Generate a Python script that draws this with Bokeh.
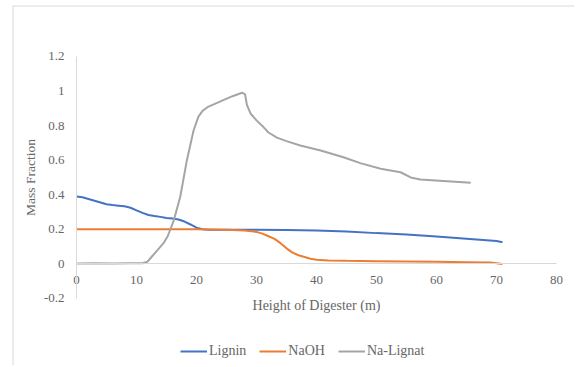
from bokeh.plotting import figure
from bokeh.models import (Range1d, FixedTicker, LinearAxis, Legend, LegendItem,
                          CustomJSTickFormatter, Span)
from bokeh.embed import file_html
from bokeh.resources import INLINE

# ---- data ----
lignin_x = [0, 1, 2, 3, 4, 5, 6, 7, 8, 9, 10, 11, 12, 13, 14, 15, 16, 17, 18, 19,
            20, 21, 22, 25, 30, 35, 40, 45, 50, 55, 60, 65, 70, 71]
lignin_y = [0.39, 0.385, 0.375, 0.365, 0.355, 0.345, 0.34, 0.337, 0.333, 0.325,
            0.31, 0.295, 0.283, 0.277, 0.272, 0.266, 0.262, 0.257, 0.245, 0.228,
            0.21, 0.2, 0.198, 0.197, 0.197, 0.196, 0.193, 0.187, 0.178, 0.17,
            0.158, 0.146, 0.132, 0.125]

naoh_x = [0, 5, 10, 15, 20, 25, 28, 30, 31, 32, 33, 34, 35, 36, 37, 38, 39, 40,
          42, 45, 50, 55, 60, 65, 69, 70, 71]
naoh_y = [0.2, 0.2, 0.2, 0.2, 0.2, 0.198, 0.193, 0.185, 0.175, 0.16, 0.145, 0.12,
          0.09, 0.065, 0.05, 0.04, 0.03, 0.024, 0.02, 0.018, 0.016, 0.014, 0.012,
          0.01, 0.008, 0.004, 0.0]

nalig_x = [0, 3, 6, 9, 11, 11.8, 12.5, 13.5, 14.5, 15.2, 16.2, 17.3, 18.4, 19.5,
           20.3, 21, 22, 24, 26, 27.6, 28.1, 28.4, 29, 30, 31.2, 32, 33.4, 35,
           37.3, 40.7, 44.5, 47.3, 50.7, 54, 55.7, 57.3, 61.8, 65.7]
nalig_y = [0.003, 0.004, 0.003, 0.004, 0.004, 0.012, 0.04, 0.08, 0.12, 0.16, 0.25,
           0.39, 0.6, 0.77, 0.85, 0.885, 0.91, 0.94, 0.97, 0.99, 0.98, 0.92, 0.87,
           0.83, 0.79, 0.76, 0.73, 0.71, 0.685, 0.656, 0.617, 0.583, 0.55, 0.53,
           0.5, 0.488, 0.478, 0.469]

x_ticks = [0, 10, 20, 30, 40, 50, 60, 70, 80]
y_ticks = [-0.2, 0, 0.2, 0.4, 0.6, 0.8, 1, 1.2]

FONT = "Liberation Serif"
TXT = "#666666"
AX = "#d9d9d9"

# the frame covers the whole chart area (its top-left corner is the chart border);
# axes cross inside it
W, H = 574, 365
LEFT, TOP = 12, 5
PX_X = 6.0      # pixels per x unit
PX_Y = 172.9    # pixels per y unit
X0 = -(76 - LEFT) / PX_X
X1 = X0 + (W - LEFT) / PX_X
Y1 = (263.4 - TOP) / PX_Y
Y0 = Y1 - (H - TOP) / PX_Y

p = figure(width=W, height=H, x_range=Range1d(X0, X1), y_range=Range1d(Y0, Y1),
           output_backend="svg", toolbar_location=None,
           x_axis_location=None, y_axis_location=None,
           min_border_left=LEFT, min_border_top=TOP, min_border_right=0,
           min_border_bottom=0)
p.outline_line_color = None
p.xgrid.grid_line_color = None
p.ygrid.grid_line_color = None

# chart border (top and left)
p.add_layout(Span(location=X0, dimension="height", line_color=AX, line_width=2))
p.add_layout(Span(location=Y1, dimension="width", line_color=AX, line_width=2))

yaxis = LinearAxis(ticker=FixedTicker(ticks=y_ticks), fixed_location=0,
                   bounds=(y_ticks[0], y_ticks[-1]),
                   formatter=CustomJSTickFormatter(code="return tick.toFixed(1).replace(/\\.0$/, '');"),
                   axis_line_color=AX, major_tick_line_color=None, minor_tick_line_color=None,
                   major_tick_out=0, major_tick_in=0,
                   major_label_standoff=12, major_label_text_font=FONT,
                   major_label_text_font_size="13px", major_label_text_color=TXT,
                   axis_label="Mass Fraction", axis_label_text_font=FONT,
                   axis_label_text_font_size="13.5px", axis_label_text_color=TXT,
                   axis_label_text_font_style="normal", axis_label_standoff=3)
p.add_layout(yaxis, "left")

xaxis = LinearAxis(ticker=FixedTicker(ticks=x_ticks), fixed_location=0,
                   bounds=(x_ticks[0], x_ticks[-1]),
                   axis_line_color=AX, major_tick_line_color=None, minor_tick_line_color=None,
                   major_tick_out=0, major_tick_in=0,
                   major_label_standoff=12, major_label_text_font=FONT,
                   major_label_text_font_size="13px", major_label_text_color=TXT,
                   axis_label="Height of Digester (m)", axis_label_text_font=FONT,
                   axis_label_text_font_size="14px", axis_label_text_color=TXT,
                   axis_label_text_font_style="normal", axis_label_standoff=11)
p.add_layout(xaxis, "below")

r1 = p.line(lignin_x, lignin_y, line_color="#4472C4", line_width=2)
r2 = p.line(naoh_x, naoh_y, line_color="#ED7D31", line_width=2)
r3 = p.line(nalig_x, nalig_y, line_color="#A5A5A5", line_width=2)

legend = Legend(items=[LegendItem(label="Lignin", renderers=[r1]),
                       LegendItem(label="NaOH", renderers=[r2]),
                       LegendItem(label="Na-Lignat", renderers=[r3])],
                orientation="horizontal", location=(168, 6),
                padding=0, margin=0, spacing=13, glyph_width=27, glyph_height=14,
                label_height=14, label_standoff=2,
                label_text_font=FONT, label_text_font_size="14px",
                label_text_color=TXT, border_line_alpha=0, background_fill_alpha=0)
p.add_layout(legend, "center")

open("out.html", "w").write(file_html(p, INLINE))
